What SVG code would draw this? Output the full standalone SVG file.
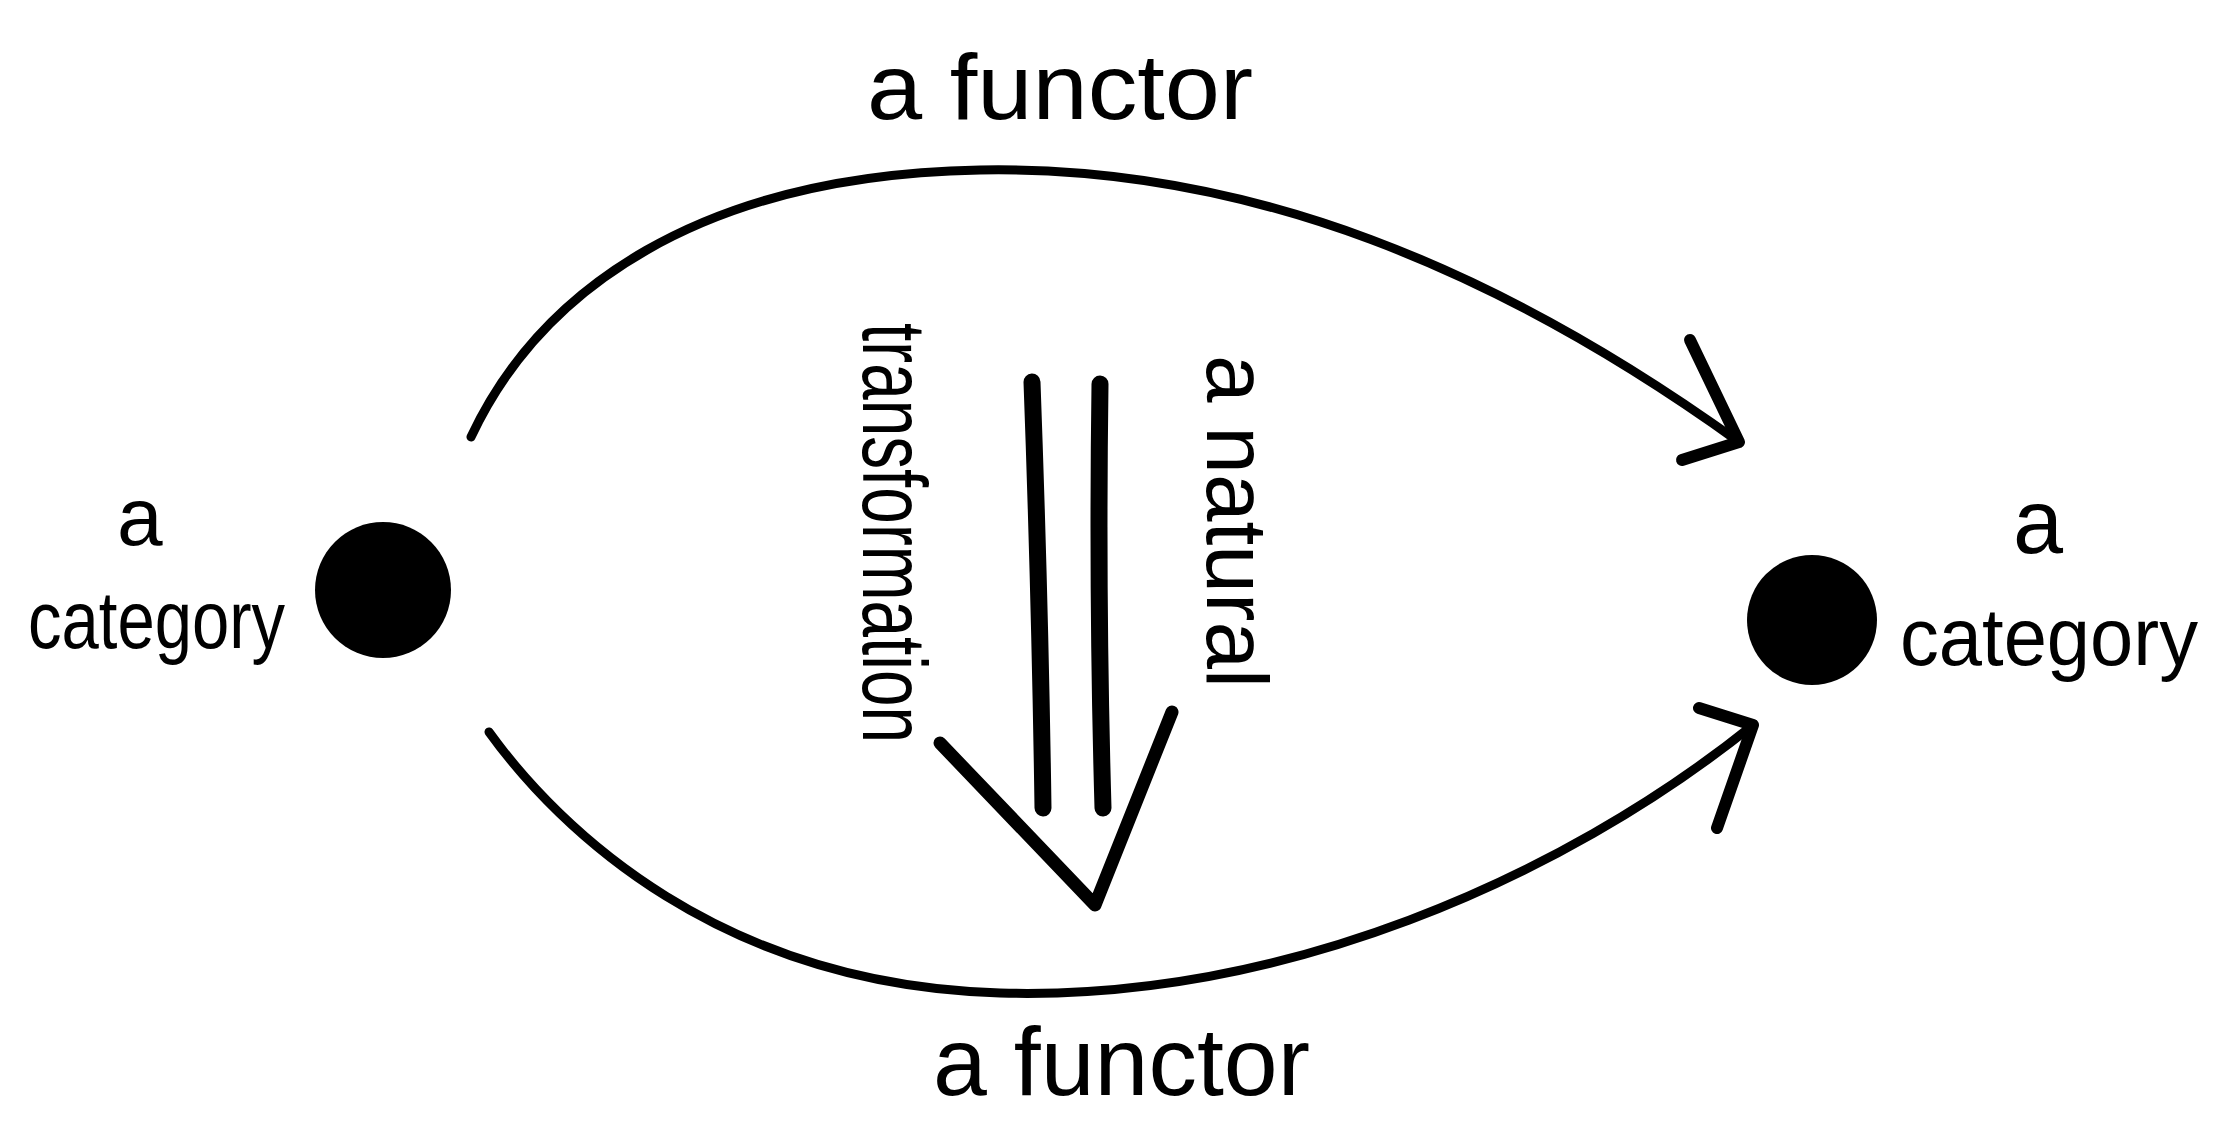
<svg xmlns="http://www.w3.org/2000/svg" width="2221" height="1129" viewBox="0 0 2221 1129">
  <style>
    .lbl { font-family: "Liberation Sans", Arial, sans-serif; fill: #000; }
    .arc { fill: none; stroke: #000; stroke-width: 9; stroke-linecap: round; stroke-linejoin: round; }
    .head { fill: none; stroke: #000; stroke-width: 12; stroke-linecap: round; stroke-linejoin: round; }
    .dbl { fill: none; stroke: #000; stroke-width: 17; stroke-linecap: round; }
    .dot { fill: #000; }
  </style>
  <rect x="0" y="0" width="2221" height="1129" fill="#fff"/>

  <g id="node-left">
    <circle class="dot" cx="383" cy="590" r="68"/>
    <text class="lbl" x="117" y="545" font-size="82">a</text>
    <text class="lbl" x="28" y="648" font-size="82" textLength="257" lengthAdjust="spacingAndGlyphs">category</text>
  </g>

  <g id="node-right">
    <circle class="dot" cx="1812" cy="620" r="65"/>
    <text class="lbl" x="2013" y="553" font-size="90">a</text>
    <text class="lbl" x="1900" y="665" font-size="82" textLength="298" lengthAdjust="spacingAndGlyphs">category</text>
  </g>

  <g id="connectors">
    <g id="functor-top">
      <path class="arc" d="M471,437 C540,290 700,175 980,170 C1250,165 1500,270 1739,442"/>
      <polyline class="head" points="1690,340 1739,442 1682,460"/>
    </g>
    <g id="functor-bottom">
      <path class="arc" d="M489,732 C560,830 720,985 1000,993 C1280,1001 1560,880 1753,725"/>
      <polyline class="head" points="1699,708 1753,725 1717,828"/>
    </g>
    <g id="natural-transformation">
      <path class="dbl" d="M1032,382 Q1040,600 1043,808"/>
      <path class="dbl" d="M1100,384 Q1097,600 1103,808"/>
      <polyline class="head" style="stroke-width:13" points="940,743 1095,905 1172,712"/>
    </g>
  </g>

  <g id="labels">
    <text class="lbl" x="867" y="119" font-size="92" textLength="386" lengthAdjust="spacingAndGlyphs">a functor</text>
    <text class="lbl" x="933" y="1095" font-size="96" textLength="377" lengthAdjust="spacingAndGlyphs">a functor</text>
    <text class="lbl" transform="translate(863,323) rotate(90)" x="0" y="0" font-size="90" textLength="420" lengthAdjust="spacingAndGlyphs">transformation</text>
    <text class="lbl" transform="translate(1207,355) rotate(90)" x="0" y="0" font-size="88" textLength="333" lengthAdjust="spacingAndGlyphs">a natural</text>
  </g>
</svg>
